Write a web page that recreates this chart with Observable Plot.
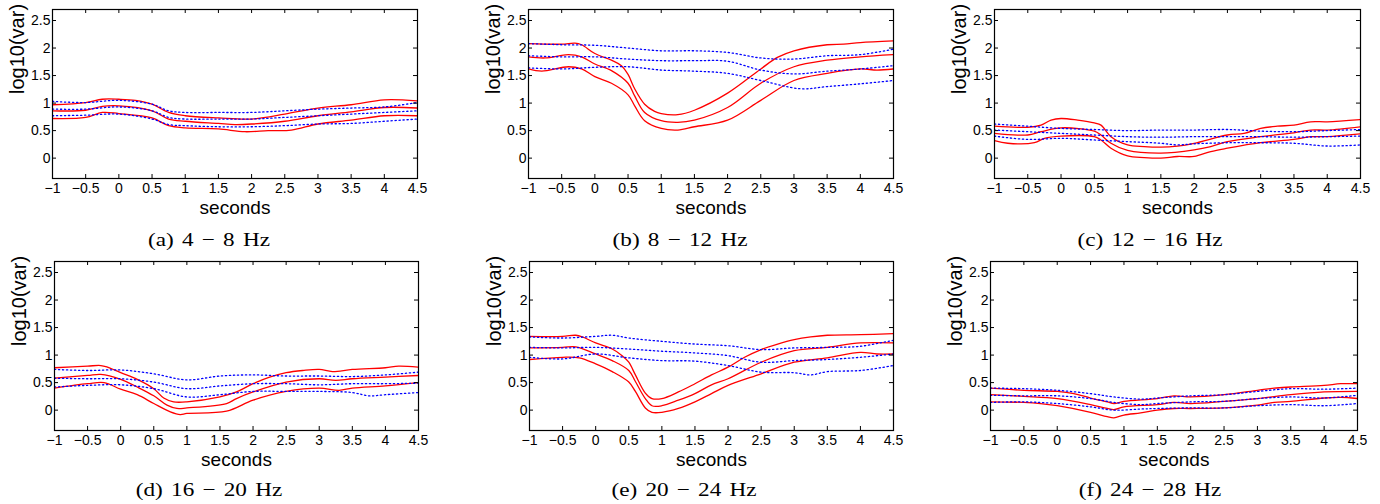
<!DOCTYPE html>
<html><head><meta charset="utf-8">
<script src="https://cdn.jsdelivr.net/npm/d3@7"></script>
<script src="https://cdn.jsdelivr.net/npm/@observablehq/plot@0.6"></script>
<style>
body{margin:0;background:#fff;width:1380px;height:504px;position:relative;overflow:hidden}
.panel{position:absolute}
.cap{position:absolute;font-family:"Liberation Serif","Times New Roman",serif;font-size:19px;line-height:20px;word-spacing:2px;transform:translateX(-50%) scaleX(1.22);white-space:nowrap;color:#000}
</style></head><body>
<script>
const xTicks = [-1,-0.5,0,0.5,1,1.5,2,2.5,3,3.5,4,4.5];
const yTicks = [0,0.5,1,1.5,2,2.5];
const captions = ["(a) 4 − 8 Hz","(b) 8 − 12 Hz","(c) 12 − 16 Hz","(d) 16 − 20 Hz","(e) 20 − 24 Hz","(f) 24 − 28 Hz"];

// each series: [upper, mean, lower]; points are [seconds, log10(var)]
const aRed = [
 [[-1,0.97],[-0.5,1.01],[-0.25,1.07],[0,1.07],[0.25,1.05],[0.5,0.98],[0.75,0.83],[1,0.77],[1.5,0.73],[2,0.71],[2.5,0.80],[3,0.91],[3.5,0.97],[4,1.06],[4.5,1.04]],
 [[-1,0.86],[-0.5,0.87],[-0.25,0.94],[0,0.95],[0.5,0.86],[0.75,0.71],[1,0.67],[1.5,0.63],[1.75,0.61],[2,0.62],[2.5,0.67],[3,0.77],[3.5,0.84],[4,0.92],[4.5,0.91]],
 [[-1,0.72],[-0.5,0.74],[-0.25,0.83],[0,0.81],[0.5,0.73],[0.75,0.59],[1,0.55],[1.5,0.53],[1.9,0.48],[2.25,0.50],[2.6,0.51],[3,0.62],[3.5,0.69],[4,0.77],[4.5,0.77]]
];
const aBlue = [
 [[-1,1.03],[-0.5,1.01],[0,1.05],[0.5,0.98],[0.75,0.86],[1,0.83],[1.5,0.83],[2,0.83],[2.5,0.86],[3,0.89],[3.5,0.91],[4,0.93],[4.5,1.01]],
 [[-1,0.89],[-0.5,0.89],[0,0.93],[0.5,0.86],[0.75,0.74],[1,0.71],[1.5,0.71],[2,0.71],[2.5,0.74],[3,0.77],[3.5,0.80],[4,0.83],[4.5,0.86]],
 [[-1,0.77],[-0.5,0.78],[0,0.80],[0.5,0.71],[0.75,0.61],[1,0.59],[1.5,0.57],[2,0.57],[2.5,0.59],[3,0.62],[3.5,0.63],[4,0.67],[4.5,0.71]]
];
const bRed = [
 [[-1,2.08],[-0.5,2.07],[-0.3,2.09],[-0.2,2.06],[0,1.90],[0.25,1.78],[0.4,1.68],[0.5,1.52],[0.6,1.26],[0.75,0.98],[0.9,0.85],[1,0.81],[1.25,0.79],[1.5,0.87],[2,1.18],[2.5,1.62],[2.75,1.83],[3,1.95],[3.5,2.06],[3.75,2.07],[4,2.10],[4.5,2.13]],
 [[-1,1.84],[-0.75,1.82],[-0.4,1.88],[-0.2,1.84],[0,1.71],[0.25,1.59],[0.5,1.36],[0.6,1.13],[0.75,0.83],[1,0.68],[1.25,0.65],[1.5,0.69],[2,0.92],[2.5,1.36],[3,1.66],[3.5,1.78],[4,1.84],[4.5,1.88]],
 [[-1,1.62],[-0.8,1.58],[-0.4,1.66],[-0.2,1.62],[0,1.48],[0.25,1.36],[0.5,1.15],[0.6,0.95],[0.75,0.68],[1,0.54],[1.25,0.51],[1.5,0.57],[2,0.69],[2.5,1.05],[3,1.41],[3.5,1.54],[4,1.62],[4.25,1.60],[4.5,1.62]]
];
const bBlue = [
 [[-1,2.08],[-0.5,2.06],[0,2.05],[0.5,2.00],[1,1.95],[1.5,1.95],[2,1.92],[2.5,1.82],[3,1.80],[3.5,1.86],[4,1.88],[4.5,1.98]],
 [[-1,1.86],[-0.5,1.84],[0,1.84],[0.5,1.80],[1,1.77],[1.5,1.77],[2,1.76],[2.5,1.60],[3,1.53],[3.5,1.58],[4,1.62],[4.5,1.68]],
 [[-1,1.64],[-0.5,1.62],[0,1.65],[0.5,1.66],[1,1.60],[1.5,1.58],[2,1.54],[2.5,1.41],[3.1,1.26],[3.5,1.30],[4,1.35],[4.5,1.41]]
];
const cRed = [
 [[-1,0.58],[-0.5,0.56],[-0.3,0.60],[-0.15,0.69],[0,0.72],[0.25,0.69],[0.5,0.64],[0.6,0.60],[0.75,0.39],[1,0.24],[1.25,0.21],[1.5,0.20],[1.75,0.22],[2,0.27],[2.5,0.42],[2.75,0.45],[3,0.54],[3.25,0.58],[3.5,0.60],[3.75,0.66],[4,0.66],[4.5,0.70]],
 [[-1,0.45],[-0.5,0.42],[-0.3,0.48],[0,0.55],[0.5,0.49],[0.6,0.42],[0.75,0.27],[1,0.14],[1.5,0.09],[2,0.15],[2.25,0.21],[2.5,0.30],[3,0.39],[3.5,0.46],[3.75,0.51],[4,0.51],[4.5,0.57]],
 [[-1,0.32],[-0.8,0.27],[-0.4,0.28],[-0.25,0.36],[0,0.40],[0.5,0.39],[0.6,0.33],[0.75,0.18],[1,0.04],[1.25,0.01],[1.5,0.00],[1.75,0.03],[2,0.03],[2.25,0.12],[2.5,0.18],[3,0.28],[3.5,0.34],[3.75,0.39],[4,0.39],[4.5,0.44]]
];
const cBlue = [
 [[-1,0.62],[-0.5,0.58],[0,0.54],[0.5,0.52],[1,0.50],[1.5,0.51],[2,0.51],[2.5,0.52],[3,0.49],[3.5,0.48],[4,0.50],[4.5,0.52]],
 [[-1,0.51],[-0.5,0.48],[0,0.45],[0.5,0.42],[1,0.39],[1.5,0.38],[2,0.39],[2.5,0.39],[3,0.39],[3.5,0.38],[4,0.39],[4.5,0.40]],
 [[-1,0.40],[-0.5,0.34],[0,0.36],[0.5,0.33],[1,0.30],[1.5,0.27],[1.75,0.24],[2,0.26],[2.5,0.28],[3,0.28],[3.5,0.27],[4,0.22],[4.5,0.24]]
];
const dRed = [
 [[-1,0.77],[-0.5,0.80],[-0.3,0.81],[-0.2,0.78],[0,0.68],[0.25,0.56],[0.5,0.39],[0.65,0.22],[0.8,0.15],[1,0.15],[1.5,0.24],[1.75,0.33],[2,0.48],[2.25,0.60],[2.5,0.68],[2.75,0.72],[3,0.74],[3.2,0.70],[3.5,0.74],[4,0.77],[4.2,0.80],[4.5,0.78]],
 [[-1,0.58],[-0.5,0.63],[-0.3,0.65],[0,0.56],[0.25,0.42],[0.5,0.26],[0.7,0.09],[0.85,0.03],[1,0.04],[1.6,0.12],[1.75,0.21],[2,0.33],[2.5,0.51],[3,0.57],[3.25,0.54],[3.5,0.57],[4,0.60],[4.5,0.63]],
 [[-1,0.40],[-0.5,0.48],[-0.25,0.50],[0,0.38],[0.25,0.28],[0.5,0.12],[0.75,-0.03],[0.9,-0.08],[1,-0.06],[1.6,-0.02],[2,0.18],[2.5,0.34],[3,0.40],[3.3,0.36],[3.5,0.40],[4,0.44],[4.5,0.50]]
];
const dBlue = [
 [[-1,0.74],[-0.5,0.72],[0,0.73],[0.5,0.66],[1,0.55],[1.5,0.62],[2,0.64],[2.5,0.62],[3,0.62],[3.5,0.61],[4,0.64],[4.5,0.69]],
 [[-1,0.58],[-0.5,0.57],[0,0.57],[0.5,0.51],[1,0.39],[1.5,0.44],[2,0.48],[2.5,0.48],[3,0.46],[3.5,0.48],[4,0.48],[4.5,0.49]],
 [[-1,0.42],[-0.5,0.45],[0,0.46],[0.5,0.39],[1,0.24],[1.5,0.28],[2,0.34],[2.5,0.34],[3,0.34],[3.5,0.32],[3.75,0.26],[4,0.28],[4.5,0.32]]
];
const eRed = [
 [[-1,1.34],[-0.5,1.34],[-0.3,1.36],[-0.2,1.33],[0,1.22],[0.25,1.11],[0.4,0.99],[0.5,0.87],[0.6,0.64],[0.75,0.31],[0.85,0.21],[1,0.21],[1.25,0.33],[1.5,0.48],[1.75,0.64],[2,0.78],[2.25,0.96],[2.5,1.10],[2.75,1.20],[3,1.28],[3.25,1.33],[3.5,1.36],[4,1.37],[4.5,1.39]],
 [[-1,1.13],[-0.5,1.14],[-0.3,1.15],[0,1.02],[0.25,0.90],[0.5,0.72],[0.6,0.52],[0.75,0.21],[0.85,0.08],[1,0.08],[1.25,0.18],[1.5,0.30],[1.75,0.46],[2,0.57],[2.5,0.87],[3,1.08],[3.5,1.14],[4,1.22],[4.5,1.22]],
 [[-1,0.92],[-0.5,0.96],[-0.25,0.95],[0,0.84],[0.25,0.70],[0.5,0.51],[0.6,0.34],[0.75,0.04],[0.85,-0.04],[1,-0.04],[1.25,0.03],[1.5,0.15],[1.75,0.30],[2,0.45],[2.5,0.66],[3,0.87],[3.5,0.95],[4,1.05],[4.25,1.02],[4.5,1.02]]
];
const eBlue = [
 [[-1,1.33],[-0.5,1.31],[0,1.34],[0.25,1.36],[0.5,1.31],[1,1.25],[1.5,1.20],[2,1.17],[2.5,1.10],[3,1.13],[3.5,1.14],[4,1.16],[4.5,1.27]],
 [[-1,1.14],[-0.5,1.13],[0,1.14],[0.5,1.11],[1,1.07],[1.5,1.04],[2,0.99],[2.5,0.87],[3,0.90],[3.5,0.92],[4,0.96],[4.5,1.02]],
 [[-1,0.96],[-0.5,0.93],[0,1.02],[0.5,0.95],[1,0.90],[1.5,0.89],[2,0.81],[2.5,0.69],[3,0.68],[3.25,0.64],[3.5,0.70],[4,0.72],[4.5,0.81]]
];
const fRed = [
 [[-1,0.40],[-0.5,0.36],[0,0.34],[0.25,0.30],[0.5,0.22],[0.75,0.15],[0.85,0.12],[1,0.16],[1.5,0.21],[1.75,0.26],[2,0.24],[2.5,0.28],[3,0.36],[3.25,0.40],[3.5,0.42],[4,0.45],[4.25,0.48],[4.5,0.48]],
 [[-1,0.28],[-0.5,0.25],[0,0.21],[0.5,0.10],[0.75,0.03],[0.85,0.01],[1,0.06],[1.5,0.10],[1.75,0.14],[2,0.12],[2.5,0.16],[3,0.21],[3.5,0.28],[4,0.33],[4.5,0.34]],
 [[-1,0.15],[-0.5,0.14],[-0.25,0.12],[0,0.08],[0.5,-0.04],[0.75,-0.12],[0.85,-0.14],[1,-0.09],[1.25,-0.05],[1.5,0.00],[1.75,0.03],[2,0.03],[2.5,0.04],[3,0.09],[3.25,0.14],[3.5,0.16],[4,0.22],[4.25,0.23],[4.5,0.21]]
];
const fBlue = [
 [[-1,0.40],[-0.5,0.39],[0,0.36],[0.5,0.30],[0.85,0.24],[1.25,0.20],[1.5,0.22],[2,0.26],[2.5,0.28],[3,0.34],[3.5,0.39],[4,0.38],[4.5,0.40]],
 [[-1,0.27],[-0.5,0.26],[0,0.26],[0.5,0.21],[0.85,0.14],[1.25,0.10],[1.5,0.12],[2,0.15],[2.5,0.16],[3,0.21],[3.5,0.24],[4,0.22],[4.5,0.27]],
 [[-1,0.14],[-0.5,0.15],[0,0.12],[0.5,0.06],[0.85,0.00],[1.25,0.02],[1.5,0.03],[2,0.04],[2.5,0.04],[3,0.08],[3.5,0.10],[4,0.08],[4.5,0.12]]
];

const panels = [
 {red: aRed, blue: aBlue, left: 52,  top: 9,   w: 365, capX: 209, capY: 240},
 {red: bRed, blue: bBlue, left: 528, top: 8.5, w: 365, capX: 680, capY: 240},
 {red: cRed, blue: cBlue, left: 994, top: 9,   w: 366, capX: 1150, capY: 240},
 {red: dRed, blue: dBlue, left: 54,  top: 260.5, w: 364, capX: 209, capY: 490},
 {red: eRed, blue: eBlue, left: 529, top: 260.5, w: 364, capX: 684, capY: 490},
 {red: fRed, blue: fBlue, left: 990, top: 260.5, w: 367, capX: 1150, capY: 490}
];

const H = 169, mL = 56, mR = 16, mT = 8, mB = 46;
const fmt = d3.format("~g");
const px = d => d[0], py = d => d[1];

panels.forEach((p, i) => {
  const chart = Plot.plot({
    width: p.w + mL + mR,
    height: H + mT + mB,
    marginLeft: mL, marginRight: mR, marginTop: mT, marginBottom: mB,
    style: {fontFamily: "'Liberation Sans', Arial, Helvetica, sans-serif", fontSize: "14px", background: "white", color: "black", overflow: "visible"},
    x: {domain: [-1, 4.5]},
    y: {domain: [-0.37, 2.7]},
    marks: [
      Plot.axisX(xTicks, {tickSize: 0, tickPadding: 5, fontSize: 14, tickFormat: fmt, label: null}),
      Plot.axisY(yTicks, {tickSize: 0, tickPadding: 2, fontSize: 14, tickFormat: fmt, label: null}),
      ...p.red.map(s => Plot.line(s, {x: px, y: py, stroke: "#ff0000", strokeWidth: 1.3, curve: "catmull-rom", clip: true})),
      ...p.blue.map(s => Plot.line(s, {x: px, y: py, stroke: "#0000ff", strokeWidth: 1.3, strokeDasharray: "1.3,2.7", curve: "catmull-rom", clip: true})),
      Plot.tickX(xTicks, {x: d => d, insetTop: H - 4, stroke: "black", strokeWidth: 1}),
      Plot.tickX(xTicks, {x: d => d, insetBottom: H - 4, stroke: "black", strokeWidth: 1}),
      Plot.tickY(yTicks, {y: d => d, insetRight: p.w - 4, stroke: "black", strokeWidth: 1}),
      Plot.tickY(yTicks, {y: d => d, insetLeft: p.w - 4, stroke: "black", strokeWidth: 1}),
      Plot.frame({stroke: "black", strokeWidth: 1.2}),
      Plot.text(["seconds"], {frameAnchor: "bottom", lineAnchor: "top", dy: 21.5, fontSize: 19, fill: "black"}),
      Plot.text(["log10(var)"], {frameAnchor: "left", rotate: -90, dx: -35, fontSize: 20, fill: "black"})
    ]
  });
  const div = document.createElement("div");
  div.className = "panel";
  div.style.left = (p.left - mL) + "px";
  div.style.top = (p.top - mT) + "px";
  div.appendChild(chart);
  document.body.appendChild(div);
  const cap = document.createElement("div");
  cap.className = "cap";
  cap.textContent = captions[i];
  cap.style.left = p.capX + "px";
  cap.style.top = (p.capY - 10) + "px";
  document.body.appendChild(cap);
});
</script>
</body></html>
